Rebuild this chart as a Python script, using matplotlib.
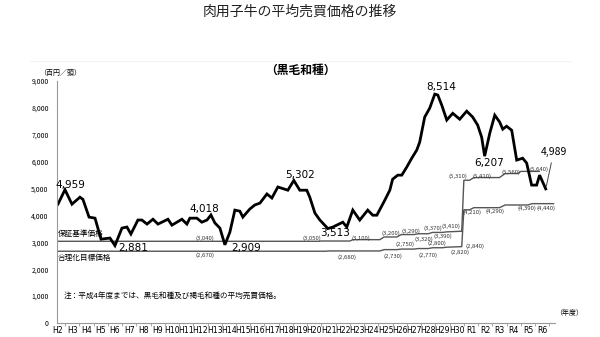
import numpy as np
import matplotlib
matplotlib.use("Agg")
import matplotlib.pyplot as plt

plt.rcParams['font.family'] = ['Noto Sans CJK JP', 'DejaVu Sans']

# fiscal year labels (H2 .. H30, R1 .. R6)
year_labels = ["H%d" % i for i in range(2, 31)] + ["R%d" % i for i in range(1, 7)]

# average price of calves (hundred yen / head), position in years from H2
price_t = [0.0, 0.49, 0.98, 1.54, 1.75, 2.18, 2.6, 3.02, 3.65, 4.0, 4.49, 4.84,
           5.12, 5.61, 5.89, 6.25, 6.67, 7.02, 7.72, 8.0, 8.7, 9.05, 9.26, 9.75,
           10.1, 10.46, 10.74, 11.02, 11.37, 11.72, 12.07, 12.42, 12.77, 12.98,
           13.47, 13.82, 14.18, 14.67, 15.02, 15.44, 15.79, 16.14, 16.56, 16.98,
           17.47, 17.68, 18.04, 18.39, 18.95, 19.3, 20.0, 20.28, 20.7, 21.19,
           21.75, 22.1, 22.39, 22.95, 23.3, 23.5, 23.86, 24.14, 24.49, 24.84,
           25.19, 25.4, 25.75, 26.1, 26.46, 26.67, 26.95, 27.3, 27.72, 28.21,
           28.7, 29.12, 29.47, 29.75, 29.96, 30.32, 30.67, 31.02, 31.23, 31.5,
           31.86, 32.21, 32.63, 32.91, 33.26, 33.61, 33.82, 34.25]
price_v = [4424, 4959, 4420, 4680, 4600, 3940, 3900, 3120, 3160, 2881, 3530, 3570,
           3310, 3830, 3830, 3680, 3860, 3680, 3860, 3640, 3860, 3680, 3900, 3900,
           3750, 3830, 4018, 3720, 3530, 2909, 3380, 4200, 4160, 3940,
           4240, 4390, 4460, 4800, 4650, 5060, 5000, 4940, 5302, 4940,
           4940, 4680, 4090, 3830, 3513, 3570, 3750, 3570, 4200, 3830,
           4200, 4010, 4010, 4570, 4940, 5350, 5500, 5500, 5800, 6130,
           6430, 6730, 7660, 7990, 8514, 8480, 8100, 7550, 7800, 7580,
           7880, 7660, 7360, 6910, 6207, 7060, 7730, 7470, 7210, 7320,
           7170, 6060, 6130, 5950, 5130, 5130, 5500, 4989]

# guaranteed standard price (保証基準価格), step line
guar_t = [0.0, 18.3, 18.5, 20.5, 20.7, 22.6, 22.9, 23.8, 24.1, 25.0, 25.3, 26.0,
          26.3, 27.0, 27.3, 28.2, 28.35, 28.5, 28.9, 29.2, 31.0, 31.4, 32.3, 32.5, 33.8]
guar_v = [3040, 3040, 3050, 3050, 3100, 3100, 3200, 3200, 3290, 3290, 3320, 3320,
          3370, 3370, 3390, 3410, 3410, 5310, 5310, 5410, 5410, 5560, 5560, 5640, 5640]

# rationalization target price (合理化目標価格), step line
targ_t = [0.0, 18.8, 19.0, 22.6, 22.9, 23.8, 24.1, 25.0, 25.3, 26.0, 26.3, 27.0,
          27.3, 28.35, 28.5, 28.9, 29.2, 31.0, 31.4, 33.0, 33.3, 34.8]
targ_v = [2670, 2670, 2680, 2680, 2730, 2730, 2750, 2750, 2770, 2770, 2800, 2800,
          2820, 2840, 4210, 4210, 4290, 4290, 4390, 4390, 4440, 4440]

# price labels on the lines: (text, x, y)
peak_labels = [("4,959", 0.85, 5130), ("2,881", 5.3, 2800), ("4,018", 10.3, 4230),
               ("2,909", 13.2, 2800), ("5,302", 17.0, 5500), ("3,513", 19.45, 3350),
               ("8,514", 26.9, 8770), ("6,207", 30.3, 5950)]
guar_labels = [("(3,040)", 10.3, 3170), ("(3,050)", 17.85, 3170), ("(3,100)", 21.3, 3170),
               ("(3,200)", 23.4, 3330), ("(3,290)", 24.8, 3400), ("(3,370)", 26.3, 3510),
               ("(3,410)", 27.6, 3590), ("(3,320)", 25.7, 3130), ("(3,390)", 27.0, 3210),
               ("(5,310)", 28.1, 5440), ("(5,410)", 29.8, 5450), ("(5,560)", 31.8, 5600),
               ("(5,640)", 33.8, 5720)]
targ_labels = [("(2,670)", 10.3, 2510), ("(2,680)", 20.3, 2440), ("(2,730)", 23.5, 2500),
               ("(2,750)", 24.4, 2930), ("(2,770)", 26.0, 2530), ("(2,800)", 26.6, 2980),
               ("(2,820)", 28.2, 2630), ("(2,840)", 29.3, 2850), ("(4,210)", 29.1, 4110),
               ("(4,290)", 30.7, 4150), ("(4,390)", 32.9, 4270), ("(4,440)", 34.3, 4280)]

fig = plt.figure(figsize=(6, 3.37), dpi=100)
ax = fig.add_axes([0.095, 0.0415, 0.83, 0.718])

ax.plot(guar_t, guar_v, color='#555555', lw=1.0)
ax.plot(targ_t, targ_v, color='#555555', lw=1.0)
ax.plot(price_t, price_v, color='black', lw=2.0, solid_joinstyle='miter')

for txt, x, y in peak_labels:
    ax.text(x, y, txt, fontsize=7.5, ha='center', va='center', family=['DejaVu Sans'])
for txt, x, y in guar_labels + targ_labels:
    ax.text(x, y, txt, fontsize=4.3, ha='center', va='center', color='#333333')

# last value with leader line
ax.annotate("4,989", xy=(price_t[-1], price_v[-1]), xytext=(34.8, 6350),
            fontsize=7.5, ha='center', va='center',
            arrowprops=dict(arrowstyle='-', color='#444444', lw=0.7))

ax.text(0.0, 3330, "保証基準価格", fontsize=5.5, ha='left', va='center')
ax.text(0.0, 2420, "合理化目標価格", fontsize=5.5, ha='left', va='center')
ax.text(0.4, 1000, "注：平成4年度までは、黒毛和種及び褐毛和種の平均売買価格。",
        fontsize=5.5, ha='left', va='center')

ax.set_xlim(-0.07, 34.9)
ax.set_ylim(0, 9000)
ax.set_yticks(np.arange(0, 9001, 1000))
ax.set_yticklabels(["{:,}".format(v) for v in range(0, 9001, 1000)], fontsize=5)
ax.set_xticks(np.arange(len(year_labels)))
ax.set_xticklabels(year_labels, fontsize=5.6, family=['DejaVu Sans'])
ax.set_xticks(np.arange(len(year_labels)) + 0.5, minor=True)
ax.tick_params(axis='x', which='major', length=0, pad=2.5)
ax.tick_params(axis='x', which='minor', length=2, color='#999999')
ax.tick_params(axis='y', length=0, pad=6)

for s in ['top', 'right']:
    ax.spines[s].set_visible(False)
ax.spines['left'].set_color('#999999')
ax.spines['bottom'].set_color('#999999')
ax.spines['left'].set_linewidth(0.8)
ax.spines['bottom'].set_linewidth(0.8)

fig.text(0.5, 0.965, "肉用子牛の平均売買価格の推移", fontsize=10, ha='center', va='center',
         color='#222222')
fig.text(0.5, 0.79, "（黒毛和種）", fontsize=8.5, ha='center', va='center', weight='bold')
fig.text(0.065, 0.785, "（百円／頭）", fontsize=5, ha='left', va='center')
fig.text(0.925, 0.07, "（年度）", fontsize=5, ha='left', va='center')
fig.add_artist(plt.Line2D([0.05, 0.95], [0.82, 0.82], color='#f0f0f0', lw=0.6))

fig.savefig("out.png", dpi=100)
